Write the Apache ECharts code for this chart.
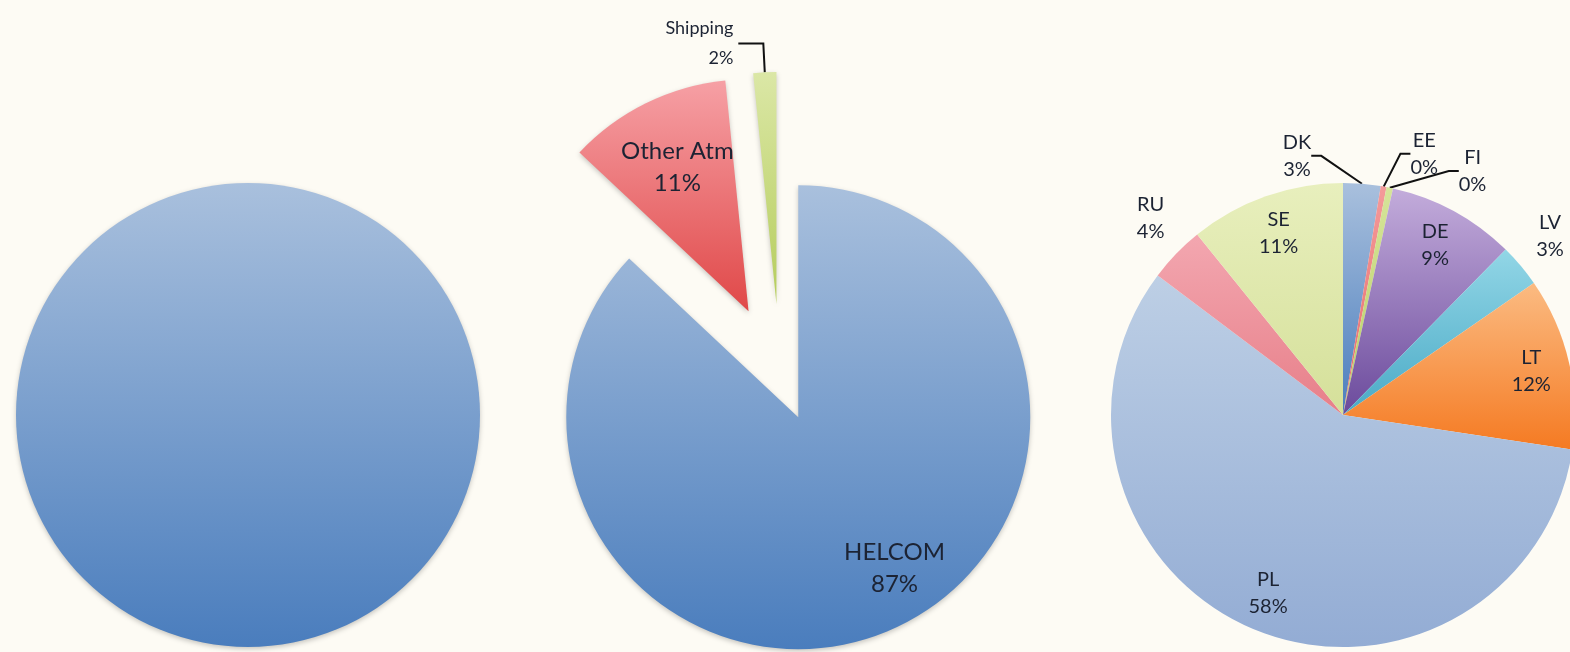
<!DOCTYPE html>
<html>
<head>
<meta charset="utf-8">
<script src="https://cdn.jsdelivr.net/npm/echarts@6/dist/echarts.min.js"></script>
<style>
html,body{margin:0;padding:0;background:#fdfbf4;}
#c{width:1570px;height:652px;}
</style>
</head>
<body>
<div id="c"></div>
<script>
// ---------------- DATA ----------------
const totalCategories = ['Total'];
const totalValues = [100];

const sourceCategories = ['HELCOM', 'Other Atm', 'Shipping'];
const sourceValues = [87.0, 11.4, 1.6];

const countryCategories = ['DK', 'EE', 'FI', 'DE', 'LV', 'LT', 'PL', 'RU', 'SE'];
const countryValues = [2.6, 0.4, 0.45, 8.9, 3.0, 12.0, 57.8, 3.9, 10.8];

// ---------------- STYLE / LAYOUT ----------------
const R = 232;
const TXT = '#1c2333';
const FONT = 'Lato';
function grad(top, bottom) {
  return { type: 'linear', x: 0, y: 0, x2: 0, y2: 1,
    colorStops: [{ offset: 0, color: top }, { offset: 1, color: bottom }] };
}
const CLEAR = 'rgba(0,0,0,0)';
const blue = grad('#a9c0dd', '#4a7dbd');
const sourceColors = {
  'HELCOM': blue,
  'Other Atm': grad('#f6a0a5', '#e04848'),
  'Shipping': grad('#dbe7a6', '#b5cd5c')
};
const countryColors = {
  DK: grad('#a9c0dd', '#4a7dbd'),
  EE: grad('#f49a9a', '#e66a6a'),
  FI: grad('#d6e49a', '#b9d064'),
  DE: grad('#c3acdb', '#6b4a9c'),
  LV: grad('#92d6e6', '#4aaac6'),
  LT: grad('#fbbb82', '#f57a22'),
  PL: grad('#bdcfe5', '#93acd4'),
  RU: grad('#f3a7b0', '#e77f89'),
  SE: grad('#e8efbd', '#d5e09a')
};
const pctFmt = p => p.name + '\n' + Math.round(p.percent) + '%';
const shadow = { shadowBlur: 5, shadowColor: 'rgba(0,0,0,0.22)', shadowOffsetY: 2 };

function nudgeLayout(names, table) {
  return function (p) {
    const n = table[names[p.dataIndex]];
    if (!n) return {};
    return {
      x: p.labelRect.x + p.labelRect.width / 2 + n[0],
      y: p.labelRect.y + p.labelRect.height / 2 + n[1],
      align: 'center', verticalAlign: 'middle'
    };
  };
}

const base = {
  type: 'pie', startAngle: 90, clockwise: true, animation: false,
  avoidLabelOverlap: false, emphasis: { disabled: true }, silent: true
};

// Left pie
const leftPie = Object.assign({}, base, {
  center: [248, 415], radius: [0, R],
  itemStyle: Object.assign({}, shadow),
  label: { show: false }, labelLine: { show: false },
  data: totalCategories.map((n, i) => ({ name: n, value: totalValues[i], itemStyle: { color: blue } }))
});

// Middle pie: HELCOM slice pulled slightly, the two others pulled further
const midCenter = [780, 375];
const helcomOffset = 46, otherOffset = 71;
// HELCOM vertex = centre moved along the HELCOM slice's mid angle
const srcTotal = sourceValues.reduce((a, b) => a + b, 0);
const helcomMid = (sourceValues[0] / 2) / srcTotal * 2 * Math.PI;
const helcomCenter = [midCenter[0] + helcomOffset * Math.sin(helcomMid),
                      midCenter[1] - helcomOffset * Math.cos(helcomMid)];
const isHelcom = i => i === 0;
const isOther = i => i > 0;

const midHelcomColor = Object.assign({}, base, {
  center: helcomCenter, radius: [0, R],
  label: { show: false }, labelLine: { show: false },
  data: sourceCategories.map((n, i) => ({
    name: n, value: sourceValues[i],
    itemStyle: isHelcom(i) ? Object.assign({ color: sourceColors[n] }, shadow) : { color: CLEAR }
  }))
});
const midOtherColor = Object.assign({}, base, {
  center: midCenter, radius: [0, R], selectedMode: 'multiple', selectedOffset: otherOffset,
  label: { show: false }, labelLine: { show: false },
  data: sourceCategories.map((n, i) => ({
    name: n, value: sourceValues[i], selected: isOther(i),
    itemStyle: isOther(i) ? Object.assign({ color: sourceColors[n] }, shadow) : { color: CLEAR }
  }))
});
const midLabelStyle = { fontFamily: FONT, fontSize: 24, lineHeight: 32, color: TXT, overflow: 'none', formatter: pctFmt };
const midHelcomLabels = Object.assign({}, base, {
  center: helcomCenter, radius: [R * 0.5, R],
  itemStyle: { color: CLEAR },
  label: Object.assign({ position: 'inside' }, midLabelStyle),
  labelLine: { show: false },
  labelLayout: nudgeLayout(sourceCategories, { HELCOM: [26, -11] }),
  data: sourceCategories.map((n, i) => {
    const d = { name: n, value: sourceValues[i] };
    if (!isHelcom(i)) d.label = { show: false };
    return d;
  })
});
const midOtherLabels = Object.assign({}, base, {
  center: midCenter, radius: [R * 0.36, R], selectedMode: 'multiple', selectedOffset: otherOffset,
  itemStyle: { color: CLEAR },
  label: Object.assign({ position: 'inside' }, midLabelStyle),
  labelLine: { show: false },
  data: sourceCategories.map((n, i) => {
    const d = { name: n, value: sourceValues[i], selected: isOther(i) };
    if (!isOther(i)) d.label = { show: false };
    if (n === 'Shipping') {
      d.label = { show: true, position: 'outside', fontSize: 18, lineHeight: 30 };
      d.labelLine = { show: true, length: 29, length2: 25, lineStyle: { color: '#111', width: 2 } };
    }
    return d;
  })
});

// Right pie
const rightCenter = [1343, 415];
const rightColor = Object.assign({}, base, {
  center: rightCenter, radius: [0, R],
  label: { show: false }, labelLine: { show: false },
  data: countryCategories.map((n, i) => ({ name: n, value: countryValues[i], itemStyle: { color: countryColors[n] } }))
});
const outsideWithLine = ['DK', 'EE', 'FI'];
const outsideNoLine = ['RU', 'LV'];
const rightLabels = Object.assign({}, base, {
  center: rightCenter, radius: [R * 0.64, R],
  itemStyle: { color: CLEAR },
  label: { position: 'inside', fontFamily: FONT, fontSize: 20, lineHeight: 27, color: TXT, overflow: 'none', formatter: pctFmt },
  labelLine: { show: false },
  labelLayout: nudgeLayout(countryCategories, {
    DK: [-95, -18], EE: [10, -23], FI: [52, -7], RU: [22, -8], LV: [-20, -4]
  }),
  data: countryCategories.map((n, i) => {
    const d = { name: n, value: countryValues[i] };
    if (outsideWithLine.includes(n)) {
      d.label = { position: 'outside' };
      d.labelLine = { show: true, length: 10, length2: 10, lineStyle: { color: '#111', width: 2 } };
    } else if (outsideNoLine.includes(n)) {
      d.label = { position: 'outside' };
      d.labelLine = { show: false, length: 40, length2: 0 };
    }
    return d;
  })
});

const chart = echarts.init(document.getElementById('c'), null, { renderer: 'canvas' });
chart.setOption({
  backgroundColor: '#fdfbf4',
  series: [
    leftPie,
    midHelcomColor,
    midOtherColor,
    midHelcomLabels,
    midOtherLabels,
    rightColor,
    rightLabels
  ]
});
</script>
</body>
</html>
